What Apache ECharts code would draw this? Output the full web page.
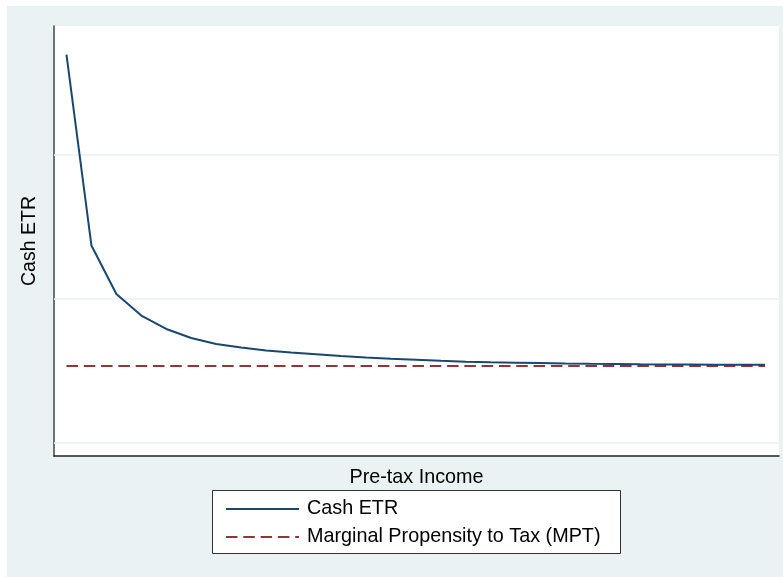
<!DOCTYPE html>
<html>
<head>
<meta charset="utf-8">
<script src="https://cdn.jsdelivr.net/npm/echarts@6/dist/echarts.min.js"></script>
<style>
  html, body { margin: 0; padding: 0; background: #fff; }
  #main { width: 783px; height: 577px; }
</style>
</head>
<body>
<div id="main"></div>
<script>
// pre-tax income steps (no labels shown on the axis)
const incomeSteps = [1, 2, 3, 4, 5, 6, 7, 8, 9, 10, 11, 12, 13, 14, 15,
  16, 17, 18, 19, 20, 21, 22, 23, 24, 25, 26, 27, 28, 29];
const cashEtr = [36.98, 23.72, 20.35, 18.85, 17.92, 17.29, 16.88, 16.63, 16.42, 16.28,
  16.16, 16.04, 15.94, 15.85, 15.78, 15.71, 15.65, 15.61, 15.58, 15.55,
  15.52, 15.50, 15.49, 15.47, 15.46, 15.45, 15.44, 15.44, 15.43];
const mptValues = [15.35, 15.35, 15.35, 15.35, 15.35, 15.35, 15.35, 15.35, 15.35, 15.35,
  15.35, 15.35, 15.35, 15.35, 15.35, 15.35, 15.35, 15.35, 15.35, 15.35,
  15.35, 15.35, 15.35, 15.35, 15.35, 15.35, 15.35, 15.35, 15.35];
const gridValues = [10, 20, 30];
const seriesNames = ['Cash ETR', 'Marginal Propensity to Tax (MPT)'];

const font = '"Liberation Sans", Arial, sans-serif';
const chart = echarts.init(document.getElementById('main'));

const option = {
  animation: false,
  graphic: [
    { type: 'rect', z: -10, shape: { x: 7, y: 6, width: 776, height: 571 }, style: { fill: '#eaf2f3' } },
    { type: 'rect', z: 5, shape: { x: 212.5, y: 490.5, width: 408, height: 63 },
      style: { fill: '#fff', stroke: '#333', lineWidth: 1 } }
  ],
  grid: {
    left: 54, right: 4, top: 26, bottom: 121,
    show: true, backgroundColor: '#fff', borderWidth: 0
  },
  legend: {
    data: seriesNames,
    orient: 'vertical',
    left: 220, top: 494,
    z: 10,
    itemWidth: 73, itemHeight: 14, itemGap: 8,
    itemStyle: { opacity: 0 },
    textStyle: { fontFamily: font, fontSize: 19.8, lineHeight: 20, color: '#000', padding: [0, 0, 0, 3] }
  },
  xAxis: {
    type: 'value',
    min: 0.5, max: 29.56,
    name: 'Pre-tax Income',
    nameLocation: 'middle',
    nameGap: 12,
    nameTextStyle: { fontFamily: font, fontSize: 19.8, color: '#000' },
    axisLine: { show: true, onZero: false, lineStyle: { color: '#222', width: 1.5 } },
    axisTick: { show: false },
    axisLabel: { show: false },
    splitLine: { show: false }
  },
  yAxis: {
    type: 'value',
    min: 9.1, max: 38.96,
    name: 'Cash ETR',
    nameLocation: 'middle',
    nameGap: 14,
    nameTextStyle: { fontFamily: font, fontSize: 19.5, color: '#000' },
    axisLine: { show: true, onZero: false, lineStyle: { color: '#444', width: 1.5 } },
    axisTick: { show: false },
    axisLabel: { show: false },
    splitLine: { show: false }
  },
  series: [
    {
      name: 'gridlines',
      type: 'line',
      data: [],
      z: 1,
      markLine: {
        silent: true,
        z: 1,
        symbol: 'none',
        label: { show: false },
        lineStyle: { color: '#eaf2f3', type: 'solid', width: 1.5 },
        data: gridValues.map(v => ({ yAxis: v }))
      }
    },
    {
      name: seriesNames[1],
      type: 'line',
      z: 3,
      symbol: 'none',
      data: incomeSteps.map((x, i) => [x, mptValues[i]]),
      lineStyle: { color: '#90353b', width: 2, type: [11.5, 5.8] },
      itemStyle: { color: '#90353b' }
    },
    {
      name: seriesNames[0],
      type: 'line',
      z: 4,
      symbol: 'none',
      data: incomeSteps.map((x, i) => [x, cashEtr[i]]),
      lineStyle: { color: '#1a476f', width: 2 },
      itemStyle: { color: '#1a476f' }
    }
  ]
};

chart.setOption(option);
</script>
</body>
</html>
